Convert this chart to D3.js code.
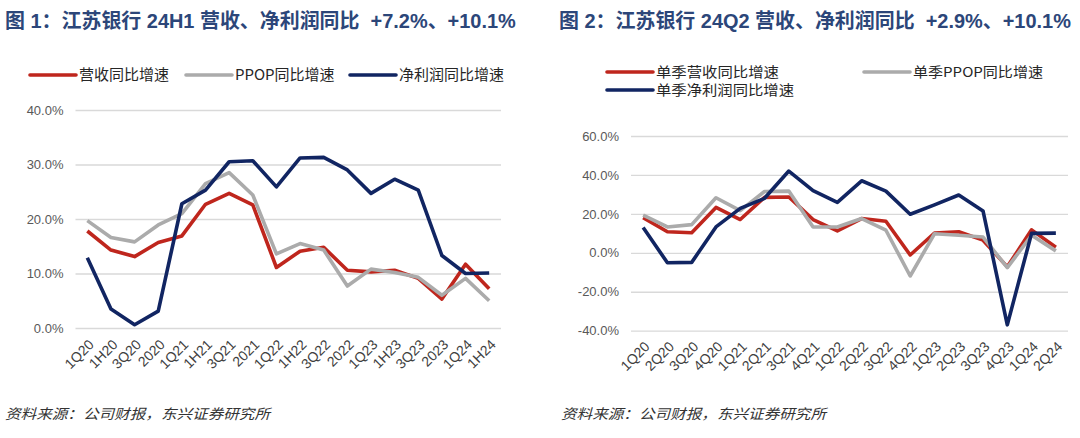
<!DOCTYPE html>
<html><head><meta charset="utf-8">
<script src="https://cdn.jsdelivr.net/npm/d3@7/dist/d3.min.js"></script>
<style>
html,body{margin:0;padding:0;background:#fff;}
svg{display:block;}
</style></head>
<body>
<svg id="c" width="1080" height="438"></svg>
<script>
// ---- data ----
const catsH = ["1Q20","1H20","3Q20","2020","1Q21","1H21","3Q21","2021","1Q22","1H22","3Q22","2022","1Q23","1H23","3Q23","2023","1Q24","1H24"];
const revH  = [17.8,14.3,13.1,15.7,16.9,22.7,24.7,22.6,11.1,14.1,14.8,10.6,10.3,10.6,9.1,5.3,11.7,7.2];
const ppopH = [19.7,16.6,15.8,18.9,21.0,26.5,28.5,24.4,13.6,15.5,14.3,7.7,10.8,10.2,9.3,6.0,9.1,5.0];
const npH   = [12.9,3.5,0.6,3.1,22.8,25.3,30.5,30.7,25.9,31.2,31.3,29.0,24.7,27.3,25.3,13.3,10.0,10.1];
const ticksH = [0,10,20,30,40];

const catsQ = ["1Q20","2Q20","3Q20","4Q20","1Q21","2Q21","3Q21","4Q21","1Q22","2Q22","3Q22","4Q22","1Q23","2Q23","3Q23","4Q23","1Q24","2Q24"];
const revQ  = [18.1,10.8,10.3,23.3,17.1,28.5,28.7,17.1,11.3,17.6,16.2,-1.1,10.2,10.8,6.5,-7.2,11.8,2.9];
const ppopQ = [19.3,13.3,14.5,28.3,21.7,31.5,31.7,13.3,13.3,17.6,11.6,-11.9,9.8,9.0,8.1,-7.6,9.0,1.0];
const npQ   = [13.0,-5.1,-4.9,13.3,22.8,28.0,42.0,31.9,25.9,37.0,31.7,19.8,24.6,29.7,21.5,-37.0,10.0,10.1];
const ticksQ = [-40,-20,0,20,40,60];

const title1 = "图 1：江苏银行 24H1 营收、净利润同比  +7.2%、+10.1%";
const title2 = "图 2：江苏银行 24Q2 营收、净利润同比  +2.9%、+10.1%";
const namesH = ["营收同比增速","PPOP同比增速","净利润同比增速"];
const namesQ = ["单季营收同比增速","单季PPOP同比增速","单季净利润同比增速"];
const source = "资料来源：公司财报，东兴证券研究所";

const COLORS = ["#bf261d","#ababab","#112562"];
const svg = d3.select("#c");

function chart(o){
  const g = svg.append("g");
  // title
  const t = g.append("text").attr("x",o.titleX).attr("y",28)
    .attr("font-family","'Liberation Sans','Noto Sans CJK SC',sans-serif")
    .attr("font-weight","bold").attr("font-size",20).attr("fill","#2c4679")
    .attr("xml:space","preserve").style("white-space","pre").text(o.title);
  const tw = t.node().getComputedTextLength();
  t.attr("font-size", 20*o.titleW/tw);

  const x = d3.scaleBand().domain(o.cats).range([o.x0,o.x1]).padding(0);
  const y = d3.scaleLinear().domain(o.dom).range([o.yb,o.yt]);
  const cx = c => x(c)+x.bandwidth()/2;

  // grid + y labels
  const ya = d3.axisLeft(y).tickValues(o.ticks).tickSize(-(o.x1-o.x0)).tickPadding(12)
    .tickFormat(d=>d.toFixed(1)+"%");
  const yg = g.append("g").attr("transform",`translate(${o.x0},0)`).call(ya);
  yg.select(".domain").remove();
  yg.selectAll("line").attr("stroke","#d9d9d9").attr("stroke-width",1.3);
  yg.selectAll("text").attr("font-family","'Liberation Sans',Arial,sans-serif")
    .attr("font-size",13).attr("fill","#595959");

  // x labels
  const xa = d3.axisBottom(x).tickSize(0).tickPadding(0);
  const xg = g.append("g").attr("transform",`translate(0,${o.xlY})`).call(xa);
  xg.select(".domain").remove();
  xg.selectAll("text").attr("font-family","'Liberation Sans',Arial,sans-serif")
    .attr("font-size",14).attr("fill","#404040")
    .attr("text-anchor","end").attr("dy","0.35em").attr("y",0)
    .attr("transform","translate(4,0) rotate(-45)");

  // lines
  const line = d3.line().x((d,i)=>cx(o.cats[i])).y(d=>y(d));
  o.series.forEach((s,i)=>{
    g.append("path").datum(s).attr("d",line).attr("fill","none")
      .attr("stroke",COLORS[i]).attr("stroke-width",3.6)
      .attr("stroke-linejoin","round").attr("stroke-linecap","butt");
  });

  // legend
  o.legend.forEach((l,i)=>{
    g.append("line").attr("x1",l.x).attr("x2",l.x+46).attr("y1",l.y).attr("y2",l.y)
      .attr("stroke",COLORS[i]).attr("stroke-width",3.6).attr("stroke-linecap","round");
    const tx = g.append("text").attr("x",l.x+49).attr("y",l.y).attr("dy","0.36em")
      .attr("font-family","'Noto Sans CJK SC',sans-serif").attr("font-size",o.legFont)
      .attr("fill","#262626").text(o.names[i]);
    if (l.w) tx.attr("textLength",l.w).attr("lengthAdjust","spacingAndGlyphs");
  });

  // source
  g.append("text").attr("x",o.srcX).attr("y",419)
    .attr("font-family","'Noto Sans CJK SC',sans-serif").attr("font-size",14)
    .attr("font-style","italic").attr("fill","#333")
    .attr("textLength",265).attr("lengthAdjust","spacingAndGlyphs").text(source);
}

chart({title:title1, titleX:5, titleW:511, cats:catsH, dom:[0,40], ticks:ticksH,
  x0:75.5, x1:501, yb:328, yt:110, xlY:342,
  series:[revH,ppopH,npH], names:namesH, legFont:15,
  legend:[{x:30,y:75},{x:186,y:75},{x:350,y:75}], srcX:5});

chart({title:title2, titleX:559, titleW:512, cats:catsQ, dom:[-40,60], ticks:ticksQ,
  x0:631, x1:1068, yb:330.7, yt:136, xlY:344,
  series:[revQ,ppopQ,npQ], names:namesQ, legFont:13.5,
  legend:[{x:607,y:72,w:123},{x:864,y:72,w:130},{x:607,y:90,w:138}], srcX:561});
</script>
</body></html>
